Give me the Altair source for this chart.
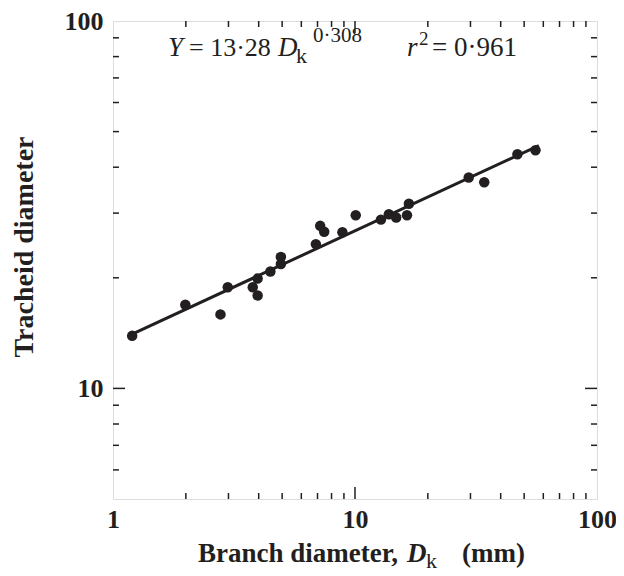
import altair as alt
import pandas as pd

# ---- data ----
branch_d = [1.20, 1.99, 2.78, 2.98, 3.78, 3.96, 3.96, 4.47, 4.94, 4.94, 6.89, 7.18,
            7.46, 8.87, 10.07, 12.8, 13.8, 14.8, 16.4, 16.7, 29.5, 34.2, 46.9, 55.7]
tracheid_d = [13.9, 16.9, 15.9, 18.85, 18.85, 17.9, 19.9, 20.8, 21.8, 22.8, 24.7, 27.7,
              26.7, 26.6, 29.6, 28.8, 29.8, 29.2, 29.6, 31.8, 37.5, 36.4, 43.4, 44.5]
fit_x = [1.2, 57.5]
fit_y = [14.05, 45.8]

x_labels = [1, 10, 100]
y_labels = [10, 100]
x_minor = [2, 3, 4, 5, 6, 7, 8, 9, 20, 30, 40, 50, 60, 70, 80, 90]
x_major = [10]
y_minor = [6, 7, 8, 9, 20, 30, 40, 50, 60, 70, 80, 90]
y_major = [10]

W, H = 484, 478
INK = "#231f20"
SERIF = "Liberation Serif"

xs = alt.Scale(type="log", domain=[1, 100], nice=False)
ys = alt.Scale(type="log", domain=[5, 100], nice=False)

XAX = alt.Axis(values=x_labels, format="d", title=None, ticks=False, domain=False, grid=False,
               labelFlush=False, labelFont=SERIF, labelFontWeight="bold", labelFontSize=26,
               labelColor=INK, labelPadding=7, labelOverlap=False)
YAX = alt.Axis(values=y_labels, format="d", title=None, ticks=False, domain=False, grid=False,
               labelFlush=False, labelFont=SERIF, labelFontWeight="bold", labelFontSize=26,
               labelColor=INK, labelPadding=10, labelOverlap=False)


def X(f):
    return alt.X(f, type="quantitative", scale=xs, axis=XAX)


def Y(f):
    return alt.Y(f, type="quantitative", scale=ys, axis=YAX)


pts = pd.DataFrame({"x": branch_d, "y": tracheid_d})
fit = pd.DataFrame({"x": fit_x, "y": fit_y})

points = alt.Chart(pts).mark_circle(size=110, color=INK, opacity=1).encode(x=X("x"), y=Y("y"))
line = alt.Chart(fit).mark_line(color=INK, strokeWidth=3).encode(x=X("x"), y=Y("y"))


def xticks(vals, length):
    df = pd.DataFrame({"x": vals})
    b = alt.Chart(df).mark_rule(color=INK, strokeWidth=1.5).encode(
        x=X("x"), y=alt.value(H), y2=alt.value(H - length))
    t = alt.Chart(df).mark_rule(color=INK, strokeWidth=1.5).encode(
        x=X("x"), y=alt.value(0), y2=alt.value(length))
    return [b, t]


def yticks(vals, length):
    df = pd.DataFrame({"y": vals})
    l = alt.Chart(df).mark_rule(color=INK, strokeWidth=1.5).encode(
        y=Y("y"), x=alt.value(0), x2=alt.value(length))
    r = alt.Chart(df).mark_rule(color=INK, strokeWidth=1.5).encode(
        y=Y("y"), x=alt.value(W), x2=alt.value(W - length))
    return [l, r]


one = pd.DataFrame({"a": [0]})


def txt(s, x, y, size, italic=False, bold=False, angle=0, align="left", baseline="alphabetic"):
    kw = dict(text=s, font=SERIF, fontSize=size, color=INK, align=align, baseline=baseline)
    if italic:
        kw["fontStyle"] = "italic"
    if bold:
        kw["fontWeight"] = "bold"
    if angle:
        kw["angle"] = angle
    return alt.Chart(one).mark_text(**kw).encode(x=alt.value(x), y=alt.value(y))


EQ = 35  # baseline of the equation, relative to plot top
XT = 541  # baseline of the x title
texts = [
    # equation
    txt("Y", 55, EQ, 27, italic=True),
    txt("= 13\u00b728", 76, EQ, 26),
    txt("D", 165, EQ, 27, italic=True),
    txt("k", 183, EQ + 7, 22),
    txt("0\u00b7308", 200, EQ - 14, 21),
    txt("r", 294, EQ, 27, italic=True),
    txt("2", 306, EQ - 11, 19),
    txt("= 0\u00b7961", 319, EQ, 27),
    # x title
    txt("Branch diameter,", 85, XT, 27, bold=True),
    txt("D", 294, XT, 27, bold=True, italic=True),
    txt("k", 313, XT + 6, 22),
    txt("(mm)", 349, XT, 27, bold=True),
    # y title
    txt("Tracheid diameter", -88, 226, 28, bold=True, angle=270, align="center", baseline="middle"),
]

layers = xticks(x_minor, 6) + xticks(x_major, 12) + yticks(y_minor, 6) + \
    yticks(y_major, 12) + [line, points] + texts

chart = alt.layer(*layers).properties(
    width=W, height=H,
    autosize=alt.AutoSizeParams(type="none"),
    padding={"left": 105, "top": 13, "right": 19, "bottom": 77},
).configure_view(stroke=INK, strokeWidth=3).configure(background="white")

chart.save("out.html", embed_options={"renderer": "svg", "actions": False})
